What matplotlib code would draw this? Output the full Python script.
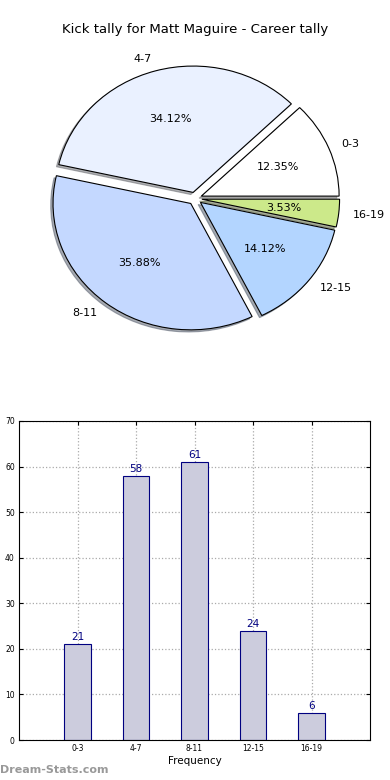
import matplotlib
matplotlib.use("Agg")
import matplotlib.pyplot as plt

categories = ["0-3", "4-7", "8-11", "12-15", "16-19"]
values = [21, 58, 61, 24, 6]
pie_colors = ["#ffffff", "#eaf1ff", "#c4d8ff", "#b3d5ff", "#cce98a"]
title = "Kick tally for Matt Maguire - Career tally"

fig = plt.figure(figsize=(3.9, 7.8), dpi=100)

# Pie
pw, ph = 303, 278
cx, cy = 195, 198.5
axp = fig.add_axes([(cx - pw/2)/390, 1 - (cy + ph/2)/780, pw/390, ph/780])
wedges, texts, autotexts = axp.pie(values, labels=categories, colors=pie_colors,
                                   explode=[0.05]*len(values), autopct="%1.2f%%",
                                   shadow=dict(ox=-0.012, oy=-0.012, shade=0.6),
                                   startangle=0,
                                   wedgeprops=dict(edgecolor="black", linewidth=0.8),
                                   textprops=dict(fontsize=8))
axp.set_aspect("auto")
axp.set_xlim(-1.1, 1.1)
axp.set_ylim(-1.1, 1.1)
axp.axis("off")
fig.text(0.5, 1 - 30/780, title, ha="center", va="center", fontsize=9.5)

# Bars
axb = fig.add_axes([19/390, 40/780, 351/390, 319/780])
x = list(range(len(categories)))
bars = axb.bar(x, values, width=0.45, color="#ccccdd", edgecolor="#000080", linewidth=0.8, zorder=2)
for xi, v in zip(x, values):
    axb.text(xi, v + 0.4, str(v), ha="center", va="bottom", color="#000080", fontsize=7.5, zorder=3)
axb.set_xlim(-1, 5)
axb.set_ylim(0, 70)
axb.set_xticks(x)
axb.set_xticklabels(categories)
axb.set_yticks(range(0, 71, 10))
axb.tick_params(labelsize=5.5, direction="in", top=True, right=True, length=3, pad=3)
axb.grid(True, linestyle=":", color="#aaaaaa", linewidth=0.9, zorder=0)
axb.set_axisbelow(True)
axb.set_xlabel("Frequency", fontsize=7.5, labelpad=2)
for s in axb.spines.values():
    s.set_linewidth(0.8)

fig.text(0.0, 1 - 770/780, "Dream-Stats.com", ha="left", va="center",
         fontsize=8, fontweight="bold", color="#999999")

fig.savefig("out.png", dpi=100)
